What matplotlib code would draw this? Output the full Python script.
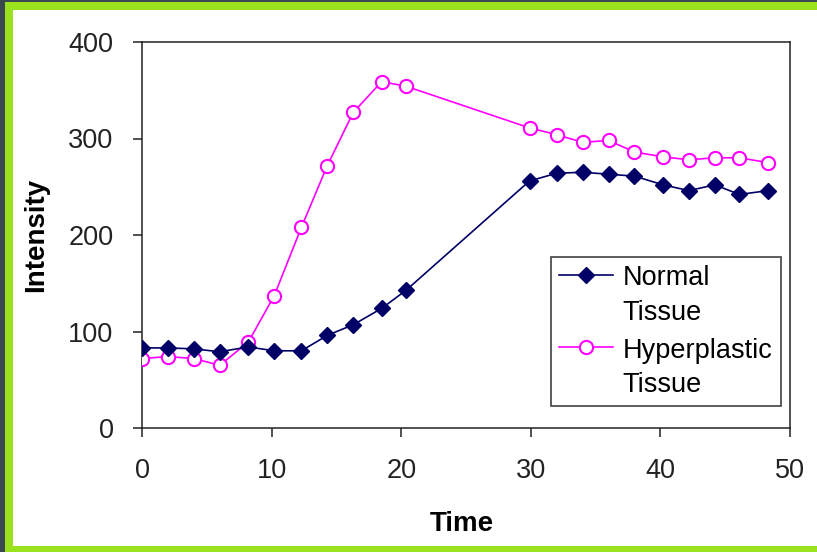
import matplotlib
matplotlib.use("Agg")
import matplotlib.pyplot as plt
from matplotlib.patches import Rectangle

# values
time = [0, 2.0, 4.0, 6.0, 8.2, 10.2, 12.3, 14.3, 16.3, 18.5, 20.4,
        29.9, 32.0, 34.0, 36.0, 38.0, 40.2, 42.2, 44.2, 46.1, 48.3]
normal = [83, 83, 82, 79, 84, 80, 80, 96, 107, 124, 143,
          256, 264, 265, 263, 261, 252, 246, 252, 242, 246]
hyperplastic = [72, 74, 72, 65, 89, 137, 208, 272, 327, 359, 354,
                311, 304, 296, 298, 286, 281, 278, 280, 280, 275]
series_labels = ["Normal\nTissue", "Hyperplastic\nTissue"]
x_ticks = [0, 10, 20, 30, 40, 50]
y_ticks = [0, 100, 200, 300, 400]

plt.rcParams['font.family'] = ['Liberation Sans', 'DejaVu Sans']

W, H = 817, 552
fig = plt.figure(figsize=(W / 100, H / 100), dpi=100)
fig.patch.set_facecolor('#3a4950')

# green frame + white slide area
fig.patches.append(Rectangle((5 / W, 0), 1, 1 - 2 / H, transform=fig.transFigure,
                             facecolor='#9be21e', edgecolor='none', zorder=-10))
fig.patches.append(Rectangle((13 / W, 6 / H), 1, 1 - 16 / H, transform=fig.transFigure,
                             facecolor='white', edgecolor='none', zorder=-9))

ax = fig.add_axes([142 / W, 1 - 428 / H, (790 - 142) / W, (428 - 42) / H])
ax.set_facecolor('none')
ax.set_zorder(5)

ax.plot(time, hyperplastic, color='#ff00ff', lw=1.2, marker='o', ms=9.5,
        markerfacecolor='white', markeredgecolor='#ff00ff', mew=1.5,
        label=series_labels[1], zorder=3)
ax.plot(time, normal, color='#000066', lw=1.2, marker='D', ms=8,
        markerfacecolor='#000066', markeredgecolor='#000066',
        label=series_labels[0], zorder=4)

ax.set_xlim(0, 50)
ax.set_ylim(0, 400)
ax.set_xticks(x_ticks)
ax.set_yticks(y_ticks)
ax.tick_params(direction='out', length=6.5, width=1.1, colors='#222222',
               labelsize=19.5, labelcolor='#222222')
ax.tick_params(axis='y', pad=14)
ax.tick_params(axis='x', pad=15)
for s in ax.spines.values():
    s.set_linewidth(1.1)
    s.set_color('#222222')

ax.set_xlabel('Time', fontsize=20, fontweight='bold')
ax.set_ylabel('Intensity', fontsize=20, fontweight='bold')
ax.xaxis.set_label_coords(0.494, -0.215)
ax.yaxis.set_label_coords(-0.1435, 0.5)

handles, labels = ax.get_legend_handles_labels()
leg = ax.legend(handles[::-1], labels[::-1], loc='upper left',
                bbox_to_anchor=(551 / W, 1 - 257 / H), bbox_transform=fig.transFigure,
                borderaxespad=0, fancybox=False, fontsize=19.5, frameon=True,
                handlelength=2.0, handletextpad=0.35, labelspacing=0.45,
                borderpad=0.3)
leg.get_frame().set_edgecolor('#111111')
leg.get_frame().set_linewidth(1.2)
for t in leg.get_texts():
    t.set_linespacing(1.42)
# put the legend marker next to the first line of each label, like Excel does
for col in leg._legend_handle_box.get_children():
    for row in col.get_children():
        row.align = 'top'

plt.savefig('out.png', dpi=100, facecolor=fig.get_facecolor())
